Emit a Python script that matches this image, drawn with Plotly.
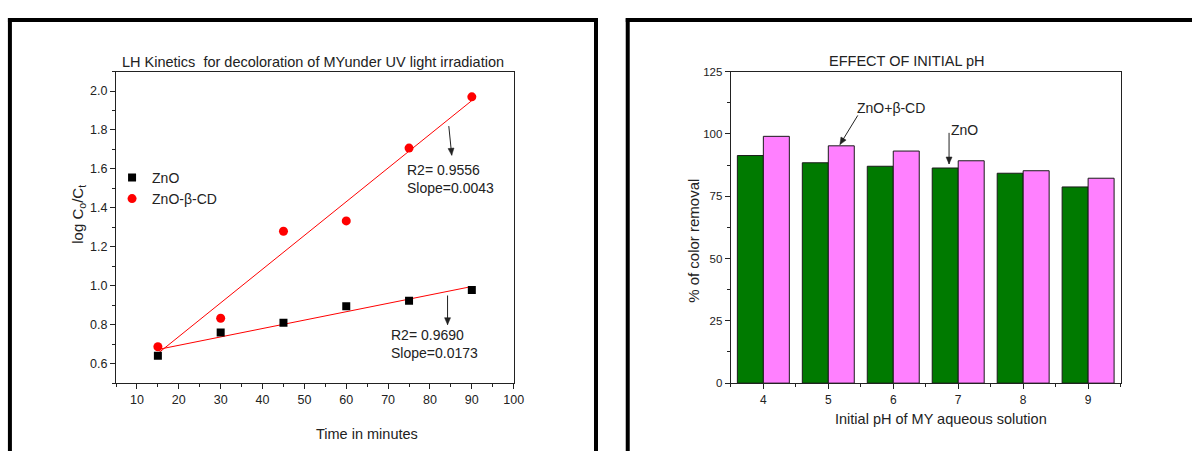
import numpy as np
import plotly.graph_objects as go

# ---------------- data ----------------
time_min = [15, 30, 45, 60, 75, 90]
zno_log = [0.64, 0.76, 0.81, 0.895, 0.923, 0.978]
zno_bcd_log = [0.687, 0.833, 1.28, 1.333, 1.707, 1.97]

ph_values = [4, 5, 6, 7, 8, 9]
zno_removal = [91.3, 88.4, 87.0, 86.3, 84.2, 78.7]
zno_bcd_removal = [99.0, 95.2, 93.1, 89.2, 85.2, 82.2]

W, H = 1202, 457
FONT = "Liberation Sans, Arial, sans-serif"


def px(x):
    return x / W


def py(y):
    return 1 - y / H


fig = go.Figure()

# ---------------- left panel ----------------
fit_x = np.array([min(time_min), max(time_min)], dtype=float)
p1 = np.polyfit(time_min, zno_log, 1)
p2 = np.polyfit(time_min, zno_bcd_log, 1)

fig.add_trace(go.Scatter(x=fit_x, y=np.polyval(p1, fit_x), mode="lines",
                         line=dict(color="red", width=1), showlegend=False,
                         xaxis="x", yaxis="y"))
fig.add_trace(go.Scatter(x=fit_x, y=np.polyval(p2, fit_x), mode="lines",
                         line=dict(color="red", width=1), showlegend=False,
                         xaxis="x", yaxis="y"))
fig.add_trace(go.Scatter(x=time_min, y=zno_log, mode="markers", name="ZnO",
                         marker=dict(symbol="square", size=8, color="black"),
                         xaxis="x", yaxis="y"))
fig.add_trace(go.Scatter(x=time_min, y=zno_bcd_log, mode="markers", name="ZnO-β-CD",
                         marker=dict(symbol="circle", size=9, color="red"),
                         xaxis="x", yaxis="y"))

# ---------------- right panel ----------------
fig.add_trace(go.Bar(x=ph_values, y=zno_removal, name="ZnO", showlegend=False,
                     marker=dict(color="#007A00", line=dict(color="#1a1a1a", width=1)),
                     xaxis="x2", yaxis="y2"))
fig.add_trace(go.Bar(x=ph_values, y=zno_bcd_removal, name="ZnO+β-CD", showlegend=False,
                     marker=dict(color="#FF80FF", line=dict(color="#1a1a1a", width=1)),
                     xaxis="x2", yaxis="y2"))

axis_common = dict(showgrid=False, zeroline=False, showline=True, linecolor="#222",
                   linewidth=1.3, mirror=True, ticks="outside", ticklen=5, tickwidth=1,
                   tickcolor="#222")

fig.update_layout(
    width=W, height=H,
    margin=dict(l=0, r=0, t=0, b=0),
    paper_bgcolor="white", plot_bgcolor="white",
    barmode="group", bargap=0.2, bargroupgap=0,
    showlegend=True,
    legend=dict(x=px(113), y=py(160), xanchor="left", yanchor="top",
                bgcolor="rgba(0,0,0,0)", font=dict(family=FONT, size=14, color="#222"),
                tracegroupgap=0, itemsizing="trace"),
    xaxis=dict(domain=[px(117), px(518)], range=[5, 100], tick0=0, dtick=10,
               minor=dict(dtick=5, ticklen=3, ticks="outside", tickcolor="#222"),
               tickfont=dict(family=FONT, size=12.5, color="#222"),
               anchor="y", **axis_common),
    yaxis=dict(domain=[py(387.3), py(67.3)], range=[0.5, 2.1], tick0=0, dtick=0.2,
               tickformat=".1f",
               minor=dict(dtick=0.1, ticklen=3, ticks="outside", tickcolor="#222"),
               tickfont=dict(family=FONT, size=12.5, color="#222"),
               anchor="x", **axis_common),
    xaxis2=dict(domain=[px(737), px(1130)], range=[3.5, 9.5], tick0=0, dtick=1,
                minor=dict(dtick=0.5, ticklen=3, ticks="outside", tickcolor="#222"),
                tickfont=dict(family=FONT, size=12, color="#222"),
                anchor="y2", **axis_common),
    yaxis2=dict(domain=[py(387.3), py(67.3)], range=[0, 125], tick0=0, dtick=25,
                minor=dict(dtick=12.5, ticklen=3, ticks="outside", tickcolor="#222"),
                tickfont=dict(family=FONT, size=11.5, color="#222"),
                anchor="x2", **axis_common),
)

ann = []
tfont = dict(family=FONT, size=14.5, color="#222")
# titles
ann.append(dict(text="LH Kinetics  for decoloration of MYunder UV light irradiation",
                x=px(316), y=py(57), xref="paper", yref="paper", showarrow=False,
                font=tfont, xanchor="center", yanchor="middle"))
ann.append(dict(text="Time in minutes", x=px(370), y=py(440), xref="paper", yref="paper",
                showarrow=False, font=tfont, xanchor="center", yanchor="middle"))
ann.append(dict(text="log C<sub>o</sub>/C<sub>t</sub>", x=px(79), y=py(214), xref="paper",
                yref="paper", showarrow=False, font=dict(family=FONT, size=15, color="#222"),
                textangle=-90, xanchor="center", yanchor="middle"))
ann.append(dict(text="EFFECT OF INITIAL pH", x=px(915), y=py(56), xref="paper", yref="paper",
                showarrow=False, font=tfont, xanchor="center", yanchor="middle"))
ann.append(dict(text="Initial pH of MY aqueous solution", x=px(949), y=py(424), xref="paper",
                yref="paper", showarrow=False, font=tfont, xanchor="center", yanchor="middle"))
ann.append(dict(text="% of color removal", x=px(699), y=py(241), xref="paper", yref="paper",
                showarrow=False, font=dict(family=FONT, size=15, color="#222"), textangle=-90,
                xanchor="center", yanchor="middle"))

# left panel fit annotations
ann.append(dict(text="R2= 0.9556<br>Slope=0.0043", x=74.1, y=1.6465, xref="x", yref="y",
                showarrow=False, align="left", xanchor="left", yanchor="top",
                font=dict(family=FONT, size=14, color="#222")))
ann.append(dict(text="R2= 0.9690<br>Slope=0.0173", x=70.3, y=0.7965, xref="x", yref="y",
                showarrow=False, align="left", xanchor="left", yanchor="top",
                font=dict(family=FONT, size=14, color="#222")))

# right panel labels
ann.append(dict(text="ZnO+β-CD", x=5.41, y=110.2, xref="x2", yref="y2", showarrow=False,
                xanchor="left", yanchor="middle", font=dict(family=FONT, size=14, color="#222")))
ann.append(dict(text="ZnO", x=6.86, y=101.6, xref="x2", yref="y2", showarrow=False,
                xanchor="left", yanchor="middle", font=dict(family=FONT, size=14, color="#222")))

fig.update_layout(annotations=ann)

# panel frames (kept inside the figure area)
frame = dict(type="line", xref="paper", yref="paper", line=dict(color="black", width=4))
shapes = [
    dict(x0=px(10), x1=px(10), y0=py(12.5), y1=0, **frame),
    dict(x0=px(8), x1=px(603), y0=py(14.5), y1=py(14.5), **frame),
    dict(x0=px(601), x1=px(601), y0=py(12.5), y1=0, **frame),
    dict(x0=px(633), x1=px(633), y0=py(12.5), y1=0, **frame),
    dict(x0=px(631), x1=1, y0=py(14.5), y1=py(14.5), **frame),
]


def arrow_shapes(xr, yr, tail, head, screen_dir):
    """Shaft as a line in data coords, head as a small pixel-sized triangle."""
    dx, dy = screen_dir
    n = (dx * dx + dy * dy) ** 0.5
    dx, dy = dx / n, dy / n
    L, w = 7.0, 3.0
    bx, by = -dx * L, dy * L
    perp_x, perp_y = dy * w, dx * w
    path = "M0,0 L{:.2f},{:.2f} L{:.2f},{:.2f} Z".format(
        bx + perp_x, by + perp_y, bx - perp_x, by - perp_y)
    return [
        dict(type="line", xref=xr, yref=yr, x0=tail[0], y0=tail[1], x1=head[0], y1=head[1],
             line=dict(color="#222", width=1)),
        dict(type="path", xref=xr, yref=yr, xsizemode="pixel", ysizemode="pixel",
             xanchor=head[0], yanchor=head[1], path=path,
             fillcolor="#222", line=dict(color="#222", width=0.5)),
    ]


shapes += arrow_shapes("x", "y", (84.5, 1.82), (85.2, 1.67), (3, 30))
shapes += arrow_shapes("x", "y", (84.2, 0.95), (84.2, 0.80), (0, 30))
shapes += arrow_shapes("x2", "y2", (5.454, 107.4), (5.179, 95.7), (-18, 30))
shapes += arrow_shapes("x2", "y2", (6.859, 100.4), (6.859, 87.9), (0, 32))
fig.update_layout(shapes=shapes)

post = (
    "var gd=document.getElementById('{plot_id}');"
    "gd.style.overflow='hidden';gd.style.position='relative';"
    "var b=document.body;b.style.margin='0';b.style.padding='0';b.style.overflow='hidden';"
)
fig.write_html("out.html", config={"displayModeBar": False}, post_script=post)
